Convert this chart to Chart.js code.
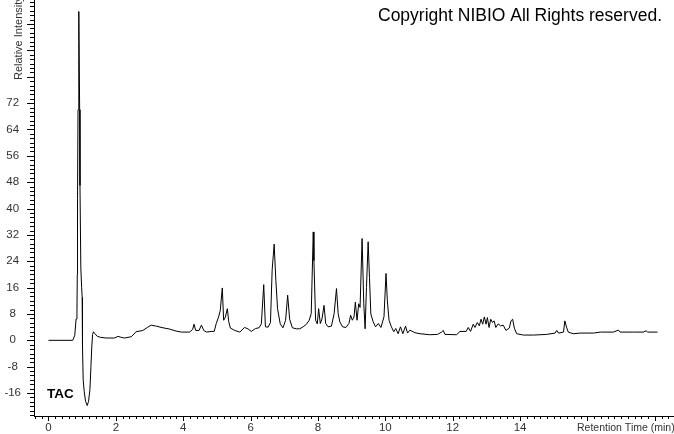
<!DOCTYPE html>
<html>
<head>
<meta charset="utf-8">
<script src="https://cdn.jsdelivr.net/npm/chart.js@4"></script>
<style>
  html, body { margin: 0; padding: 0; background: #fff; }
  #wrap { width: 674px; height: 434px; }
</style>
</head>
<body>
<div id="wrap"><canvas id="chrom" width="674" height="434"></canvas></div>
<script>
// retention time (min) and relative intensity
const times = [
  0.00, 0.72, 0.78, 0.82, 0.845, 0.855, 0.862, 0.877, 0.90, 0.925, 0.935, 0.96, 0.985, 1.00,
  1.01, 1.03, 1.06, 1.10, 1.15, 1.19, 1.23, 1.26, 1.285, 1.31, 1.335, 1.37, 1.45, 1.55, 1.71,
  1.96, 2.06, 2.16, 2.26, 2.46, 2.60, 2.80, 2.95, 3.05, 3.20, 3.40, 3.60, 3.79, 3.95, 4.19,
  4.28, 4.32, 4.37, 4.47, 4.54, 4.61, 4.69, 4.83, 4.92, 4.98, 5.05, 5.10, 5.16, 5.20, 5.25,
  5.31, 5.35, 5.40, 5.53, 5.68, 5.82, 5.92, 6.02, 6.15, 6.25, 6.32, 6.39, 6.44, 6.52, 6.59,
  6.64, 6.70, 6.75, 6.80, 6.88, 6.96, 7.04, 7.10, 7.16, 7.24, 7.36, 7.46, 7.56, 7.66, 7.74,
  7.80, 7.86, 7.88, 7.93, 7.98, 8.02, 8.07, 8.12, 8.18, 8.23, 8.30, 8.40, 8.48, 8.55, 8.60,
  8.65, 8.73, 8.83, 8.92, 8.97, 9.02, 9.07, 9.11, 9.16, 9.21, 9.25, 9.31, 9.36, 9.40, 9.44,
  9.49, 9.53, 9.57, 9.64, 9.71, 9.79, 9.87, 9.96, 10.02, 10.06, 10.11, 10.18, 10.25, 10.31,
  10.38, 10.45, 10.52, 10.60, 10.66, 10.73, 10.88, 11.03, 11.32, 11.55, 11.67, 11.72, 11.77,
  12.12, 12.21, 12.40, 12.46, 12.53, 12.61, 12.66, 12.73, 12.79, 12.84, 12.89, 12.94, 12.99,
  13.03, 13.08, 13.13, 13.18, 13.23, 13.28, 13.35, 13.42, 13.50, 13.58, 13.68, 13.73, 13.78,
  13.83, 13.90, 14.10, 14.40, 14.79, 15.04, 15.09, 15.14, 15.29, 15.33, 15.38, 15.43, 15.58,
  15.78, 16.18, 16.38, 16.77, 16.92, 16.97, 17.36, 17.66, 17.74, 17.79, 18.08
];
const intensity = [
  0, 0, 1.5, 6.5, 8, 20, 43, 70, 99.8, 70, 47, 22, 16, 13,
  -2, -12, -15.5, -18.5, -19.8, -18.5, -15, -8, -2, 1.8, 2.6, 2.1, 1.2, 0.9, 0.7,
  0.7, 1.2, 0.9, 0.7, 1.1, 2.6, 3.0, 4.0, 4.6, 4.3, 3.8, 3.4, 2.8, 2.5, 2.5,
  3.3, 4.9, 3.0, 3.0, 4.6, 3.0, 2.5, 2.7, 2.7, 5.1, 7.1, 9.1, 15.9, 6.1, 7,
  9.6, 5.7, 3.7, 3.0, 2.5, 3.9, 3.5, 2.7, 3.6, 3.8, 5.0, 16.9, 4.1, 4.0, 5.4,
  21.3, 29.2, 18.2, 9.6, 5.0, 3.8, 6.1, 13.7, 6.4, 3.8, 3.5, 3.5, 4.1, 4.9, 6.1,
  8.1, 32.9, 24.2, 6.1, 5, 9.6, 5.1, 6.5, 10.6, 5.1, 4.1, 4.3, 8.1, 15.7, 8.1,
  5.6, 4.1, 3.9, 5.1, 7.6, 6.1, 7.1, 11.6, 6.1, 11.1, 10, 30.9, 11.1, 3.5, 16,
  29.9, 19, 8, 5.6, 4.1, 5.1, 3.9, 7.1, 20.3, 12, 6.1, 4.1, 2.6, 3.6,
  2.0, 4.1, 2.0, 4.3, 2.2, 3.1, 2.3, 2.0, 1.7, 1.8, 2.5, 3.0, 1.8,
  1.7, 2.7, 2.7, 3.9, 2.7, 4.9, 3.9, 5.4, 4.4, 6.4, 4.9, 7.1, 4.9,
  6.9, 3.9, 6.4, 5.4, 5.9, 3.9, 5.0, 4.4, 4.6, 3.0, 3.7, 5.9, 6.4,
  3.7, 2.0, 1.6, 1.6, 1.8, 2.2, 3.0, 2.2, 2.5, 5.9, 4.0, 2.5, 2.0,
  2.2, 2.2, 2.5, 2.5, 3.1, 2.5, 2.5, 2.5, 2.9, 2.5, 2.5
];
const xLabels = [0, 2, 4, 6, 8, 10, 12, 14];
const yLabels = [-16, -8, 0, 8, 16, 24, 32, 40, 48, 56, 64, 72];

const tickFont = { family: '"Liberation Sans", Arial, sans-serif', size: 11.5 };

// minor / major tick marks + fixed captions
const decor = {
  id: 'decor',
  afterDraw(chart) {
    const { ctx, chartArea: a, scales: { x, y } } = chart;
    ctx.save();
    ctx.strokeStyle = '#000';
    ctx.lineWidth = 1;
    ctx.beginPath();
    for (let k = -20; k <= 80; k++) {
      const v = k * 8 / 6;
      if (v < y.min || v > y.max) continue;
      const py = Math.round(y.getPixelForValue(v)) + 0.5;
      const len = k % 6 === 0 ? 7 : 4;
      ctx.moveTo(a.left - len, py);
      ctx.lineTo(a.left, py);
    }
    for (let k = -2; k <= 93; k++) {
      const t = k * 0.2;
      if (t < x.min || t > x.max) continue;
      const px = Math.round(x.getPixelForValue(t)) + 0.5;
      const len = k % 10 === 0 ? 5 : 3;
      ctx.moveTo(px, a.bottom);
      ctx.lineTo(px, a.bottom + len);
    }
    ctx.stroke();

    ctx.fillStyle = '#000';
    ctx.font = '17.5px "Liberation Sans", Arial, sans-serif';
    ctx.textBaseline = 'alphabetic';
    ctx.textAlign = 'left';
    ctx.fillText('Copyright NIBIO All Rights reserved.', 378, 21);

    ctx.font = 'bold 13.5px "Liberation Sans", Arial, sans-serif';
    ctx.fillText('TAC', 47, 398);

    ctx.fillStyle = '#333';
    ctx.font = '10.5px "Liberation Sans", Arial, sans-serif';
    ctx.fillText('Retention Time (min)', 577, 431);

    ctx.translate(22, 80);
    ctx.rotate(-Math.PI / 2);
    ctx.font = '11px "Liberation Sans", Arial, sans-serif';
    ctx.fillText('Relative Intensity', 0, 0);
    ctx.restore();
  }
};

new Chart(document.getElementById('chrom'), {
  type: 'line',
  data: {
    datasets: [{
      data: times.map((t, i) => ({ x: t, y: intensity[i] })),
      borderColor: '#000',
      borderWidth: 1,
      pointRadius: 0,
      tension: 0,
      fill: false
    }]
  },
  options: {
    responsive: false,
    animation: false,
    devicePixelRatio: 1,
    layout: { padding: 0 },
    plugins: { legend: { display: false }, tooltip: { enabled: false } },
    scales: {
      x: {
        type: 'linear',
        min: -0.43,
        max: 18.57,
        afterFit: s => { s.height = 18; s.paddingLeft = 0; s.paddingRight = 0; },
        afterBuildTicks: s => { s.ticks = xLabels.map(v => ({ value: v })); },
        grid: { display: false, drawTicks: false },
        border: { display: true, color: '#000', width: 1 },
        ticks: { autoSkip: false, maxRotation: 0, padding: 5, color: '#333', font: tickFont }
      },
      y: {
        min: -22.97,
        max: 103.3,
        afterFit: s => { s.width = 34; s.paddingTop = 0; s.paddingBottom = 0; },
        afterBuildTicks: s => { s.ticks = yLabels.map(v => ({ value: v })); },
        grid: { display: false, drawTicks: false },
        border: { display: true, color: '#000', width: 1 },
        ticks: { autoSkip: false, padding: 13, crossAlign: 'center', color: '#333', font: tickFont }
      }
    }
  },
  plugins: [decor]
});
</script>
</body>
</html>
